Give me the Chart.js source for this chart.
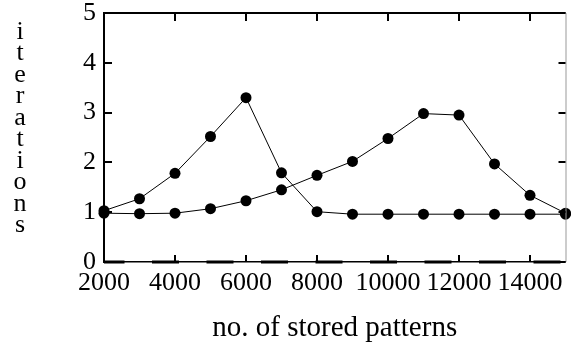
<!DOCTYPE html>
<html>
<head>
<meta charset="utf-8">
<script src="https://cdn.jsdelivr.net/npm/chart.js@4"></script>
<style>
  html, body { margin: 0; padding: 0; background: #fff; }
  #wrap { width: 571px; height: 343px; position: relative; }
</style>
</head>
<body>
<div id="wrap"><canvas id="c" width="571" height="343"></canvas></div>
<script>
// ---- data ----
const patterns = [2000, 3000, 4000, 5000, 6000, 7000, 8000, 9000, 10000, 11000, 12000, 13000, 14000, 15000];
const seriesA = [1.03, 1.27, 1.78, 2.52, 3.30, 1.79, 1.01, 0.96, 0.96, 0.96, 0.96, 0.96, 0.96, 0.96];
const seriesB = [0.98, 0.97, 0.98, 1.07, 1.23, 1.45, 1.74, 2.02, 2.48, 2.98, 2.95, 1.97, 1.34, 0.98];
const baseline = [0, 0, 0, 0, 0, 0, 0, 0, 0, 0, 0, 0, 0, 0];
const xTickValues = [2000, 4000, 6000, 8000, 10000, 12000, 14000];
const yTickValues = [0, 1, 2, 3, 4, 5];
const yTitle = "iterations";
const xTitle = "no. of stored patterns";

const toPts = (vals) => patterns.map((x, i) => ({ x: x, y: vals[i] }));
const SERIF = "'Liberation Serif', 'DejaVu Serif', serif";

const frame = {
  id: 'frame',
  afterDraw(chart) {
    const { ctx, chartArea: a, scales: { x, y } } = chart;
    ctx.save();
    // top border
    ctx.strokeStyle = '#000';
    ctx.lineWidth = 2;
    ctx.beginPath(); ctx.moveTo(a.left, a.top); ctx.lineTo(a.right, a.top); ctx.stroke();
    // right border
    ctx.strokeStyle = '#999';
    ctx.lineWidth = 1;
    ctx.beginPath(); ctx.moveTo(a.right + 0.5, a.top); ctx.lineTo(a.right + 0.5, a.bottom); ctx.stroke();
    // inward ticks
    ctx.strokeStyle = '#000';
    ctx.lineWidth = 2;
    x.ticks.forEach(t => {
      const px = Math.round(x.getPixelForValue(t.value));
      ctx.beginPath(); ctx.moveTo(px, a.top); ctx.lineTo(px, a.top + 8); ctx.stroke();
      ctx.beginPath(); ctx.moveTo(px, a.bottom); ctx.lineTo(px, a.bottom - 7); ctx.stroke();
    });
    y.ticks.forEach(t => {
      const py = Math.round(y.getPixelForValue(t.value));
      ctx.beginPath(); ctx.moveTo(a.left, py); ctx.lineTo(a.left + 8, py); ctx.stroke();
      ctx.beginPath(); ctx.moveTo(a.right, py); ctx.lineTo(a.right - 7, py); ctx.stroke();
    });
    // stacked y title
    ctx.fillStyle = '#000';
    ctx.font = "26px " + SERIF;
    ctx.textAlign = 'center';
    ctx.textBaseline = 'alphabetic';
    const letters = yTitle.split('');
    const first = 39, last = 232;
    const step = (last - first) / (letters.length - 1);
    letters.forEach((ch, i) => ctx.fillText(ch, 20, first + i * step));
    ctx.restore();
  }
};

new Chart(document.getElementById('c'), {
  type: 'line',
  data: {
    datasets: [
      {
        data: toPts(baseline),
        borderColor: '#000',
        borderWidth: 3,
        borderDash: [27, 27.5],
        borderDashOffset: 6.5,
        pointRadius: 0,
        clip: false
      },
      {
        data: toPts(seriesA),
        borderColor: '#000',
        borderWidth: 1,
        pointRadius: 5.5,
        pointBackgroundColor: '#000',
        pointBorderWidth: 0,
        clip: false
      },
      {
        data: toPts(seriesB),
        borderColor: '#000',
        borderWidth: 1,
        pointRadius: 5.5,
        pointBackgroundColor: '#000',
        pointBorderWidth: 0,
        clip: false
      }
    ]
  },
  options: {
    responsive: false,
    animation: false,
    events: [],
    layout: { padding: { left: 0, right: 1, top: 13, bottom: 0 } },
    plugins: { legend: { display: false }, tooltip: { enabled: false } },
    scales: {
      x: {
        type: 'linear',
        min: 2000,
        max: 15000,
        afterBuildTicks: s => { s.ticks = xTickValues.map(v => ({ value: v })); },
        ticks: {
          maxRotation: 0,
          autoSkip: false,
          padding: 6,
          color: '#000',
          font: { family: SERIF, size: 26 },
          callback: v => String(v)
        },
        grid: { drawOnChartArea: false, drawTicks: false },
        border: { display: true, color: '#000', width: 1.5 },
        title: {
          display: true,
          text: xTitle,
          color: '#000',
          font: { family: SERIF, size: 29, lineHeight: 1.0 },
          padding: { top: 0, bottom: 0 }
        },
        afterFit: s => { s.height = 81; s.paddingLeft = 0; s.paddingRight = 0; }
      },
      y: {
        min: 0,
        max: 5,
        afterBuildTicks: s => { s.ticks = yTickValues.map(v => ({ value: v })); },
        ticks: {
          padding: 8,
          color: '#000',
          font: { family: SERIF, size: 26 },
          callback: v => String(v)
        },
        grid: { drawOnChartArea: false, drawTicks: false },
        border: { display: true, color: '#000', width: 2 },
        afterFit: s => { s.width = 104; s.paddingTop = 0; s.paddingBottom = 0; }
      }
    }
  },
  plugins: [frame]
});
</script>
</body>
</html>
